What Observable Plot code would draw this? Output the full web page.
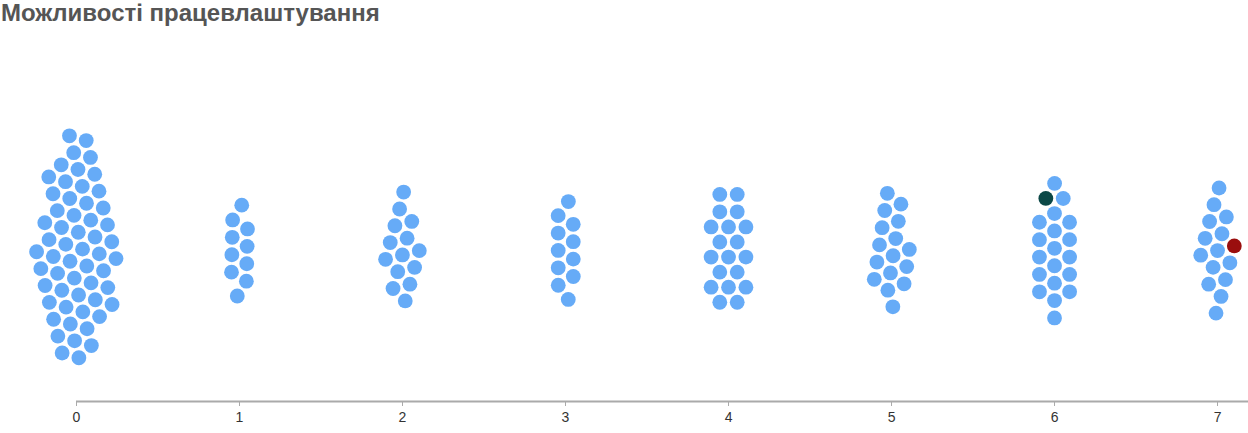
<!DOCTYPE html>
<html><head><meta charset="utf-8">
<script src="https://cdn.jsdelivr.net/npm/d3@7"></script>
<script src="https://cdn.jsdelivr.net/npm/@observablehq/plot@0.6"></script>
<style>
body{margin:0;background:#fff;font-family:Arial,"Liberation Sans",sans-serif}
#title{font:bold 24px Arial,"Liberation Sans",sans-serif;color:#555;margin:0;padding:0 0 0 1px;height:28px;line-height:25px;white-space:nowrap}
#chart svg{display:block}
</style></head><body>
<div id="title">Можливості працевлаштування</div>
<div id="chart"></div>
<script>
// Data
const categories = [0, 1, 2, 3, 4, 5, 6, 7];
const counts = [56, 10, 14, 11, 19, 16, 20, 15];
const tickLabels = ["0", "1", "2", "3", "4", "5", "6", "7"];
// highlighted points: category, and where it sits in its cluster
const highlightCategories = [6, 7];
const highlightRule = ["upper-left", "right"];
const highlightColors = ["#0b4847", "#9a0e0e"];
const baseColor = "#66abf7";

const W = 1248, H = 405, ML = 76, MB = 32;
const xDomain = [0, 7.19];
const yDomain = [151, -222];

const xScale = Plot.scale({x: {domain: xDomain, range: [ML, W]}});
const golden = Math.PI * (3 - Math.sqrt(5));
const nodes = [];
categories.forEach((c, i) => {
  for (let k = 0; k < counts[i]; k++) {
    const rr = 9 * Math.sqrt(k + 0.5), th = k * golden;
    nodes.push({category: c, k, x: xScale.apply(c) + rr * Math.cos(th), y: rr * Math.sin(th)});
  }
});
const sim = d3.forceSimulation(nodes)
  .force("x", d3.forceX(d => xScale.apply(d.category)).strength(0.25))
  .force("y", d3.forceY(0).strength(0.02))
  .force("collide", d3.forceCollide(8.7).iterations(4))
  .alphaDecay(0.01)
  .stop();
sim.tick(800);

const data = nodes.map(n => ({category: n.category, value: xScale.invert(n.x), offset: n.y, color: baseColor}));
highlightCategories.forEach((c, j) => {
  const group = data.filter(d => d.category === c);
  let pick;
  if (highlightRule[j] === "upper-left") {
    group.sort((a, b) => a.offset - b.offset);
    pick = group.slice(0, 3).sort((a, b) => a.value - b.value)[0];
  } else {
    pick = group.sort((a, b) => b.value - a.value)[0];
  }
  pick.color = highlightColors[j];
});

const chart = Plot.plot({
  width: W, height: H,
  marginLeft: ML, marginRight: 0, marginTop: 0, marginBottom: MB,
  x: {domain: xDomain, label: null},
  y: {domain: yDomain, axis: null},
  color: {type: "identity"},
  style: {fontFamily: "Arial, 'Liberation Sans', sans-serif", fontSize: "14px", color: "#333", background: "#fff"},
  marks: [
    Plot.ruleY([yDomain[0]], {stroke: "#aaa", strokeWidth: 2}),
    Plot.axisX({ticks: categories, tickFormat: d => tickLabels[d], tickSize: 5, tickPadding: 6, stroke: "#aaa", fontSize: 14, label: null}),
    Plot.dot(data, {x: "value", y: "offset", r: 7.4, fill: "color", stroke: "none"})
  ]
});
document.getElementById("chart").appendChild(chart);
</script>
</body></html>
